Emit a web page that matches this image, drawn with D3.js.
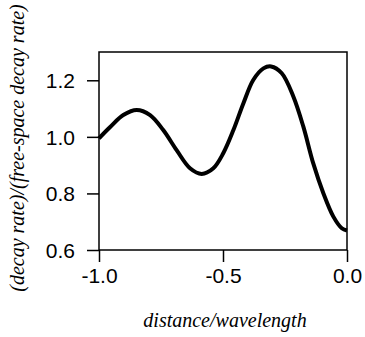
<!DOCTYPE html>
<html>
<head>
<meta charset="utf-8">
<script src="https://cdn.jsdelivr.net/npm/d3@7"></script>
<style>
  html, body { margin: 0; padding: 0; background: #fff; }
  svg text { fill: #000; }
  .tick-label { font-family: "Liberation Sans", Arial, sans-serif; font-size: 21px; }
  .axis-title { font-family: "Liberation Serif", "Times New Roman", serif; font-style: italic; font-size: 20px; }
</style>
</head>
<body>
<svg id="chart" width="365" height="337"></svg>
<script>
// values
const distance = [-1.0, -0.956, -0.902, -0.848, -0.794, -0.741, -0.687, -0.633, -0.586,
                  -0.539, -0.499, -0.458, -0.418, -0.378, -0.337, -0.306, -0.263, -0.216,
                  -0.176, -0.136, -0.095, -0.055, -0.021, 0.0];
const decayRatio = [0.995, 1.034, 1.077, 1.095, 1.077, 1.024, 0.953, 0.889, 0.869,
                    0.889, 0.942, 1.024, 1.118, 1.201, 1.242, 1.249, 1.225, 1.142,
                    1.036, 0.906, 0.800, 0.718, 0.677, 0.669];

const xTicks = [-1.0, -0.5, 0.0];
const yTicks = [0.6, 0.8, 1.0, 1.2];
const xTitle = 'distance/wavelength';
const yTitle = '(decay rate)/(free-space decay rate)';

// ──────────────────────────────────────────────────────────────────────────────

const margin = { top: 52, left: 99 };
const width = 248, height = 198;

const svg = d3.select('#chart');
const g = svg.append('g').attr('transform', `translate(${margin.left},${margin.top})`);

const x = d3.scaleLinear().domain([-1.0, 0.0]).range([0, width]);
const y = d3.scaleLinear().domain([0.6, 1.3]).range([height, 0]);

// frame
g.append('rect')
  .attr('width', width)
  .attr('height', height)
  .attr('fill', 'none')
  .attr('stroke', '#000')
  .attr('stroke-width', 1.5);

// axes
const xAxis = g.append('g')
  .attr('transform', `translate(0,${height})`)
  .call(d3.axisBottom(x).tickValues(xTicks).tickSize(12).tickPadding(6));

const yAxis = g.append('g')
  .call(d3.axisLeft(y).tickValues(yTicks).tickSize(12).tickPadding(12));

for (const ax of [xAxis, yAxis]) {
  ax.select('.domain').remove();
  ax.selectAll('.tick line').attr('stroke', '#000').attr('stroke-width', 1.5);
  ax.selectAll('.tick text')
    .attr('class', 'tick-label')
    .attr('font-family', null)
    .attr('font-size', null)
    .text(d => d3.format('.1f')(d).replace('−', '-'));
}
yAxis.selectAll('.tick text').attr('dy', '0.36em');

// curve
const points = distance.map((d, i) => [d, decayRatio[i]]);
g.append('path')
  .datum(points)
  .attr('fill', 'none')
  .attr('stroke', '#000')
  .attr('stroke-width', 4)
  .attr('stroke-linejoin', 'round')
  .attr('d', d3.line()
    .x(d => x(d[0]))
    .y(d => y(d[1]))
    .curve(d3.curveCatmullRom.alpha(0.5)));

// titles
svg.append('text')
  .attr('class', 'axis-title')
  .attr('x', margin.left + width / 2 + 2)
  .attr('y', 327)
  .attr('text-anchor', 'middle')
  .text(xTitle);

svg.append('text')
  .attr('class', 'axis-title')
  .attr('transform', `translate(24,${148}) rotate(-90)`)
  .attr('text-anchor', 'middle')
  .text(yTitle);
</script>
</body>
</html>
